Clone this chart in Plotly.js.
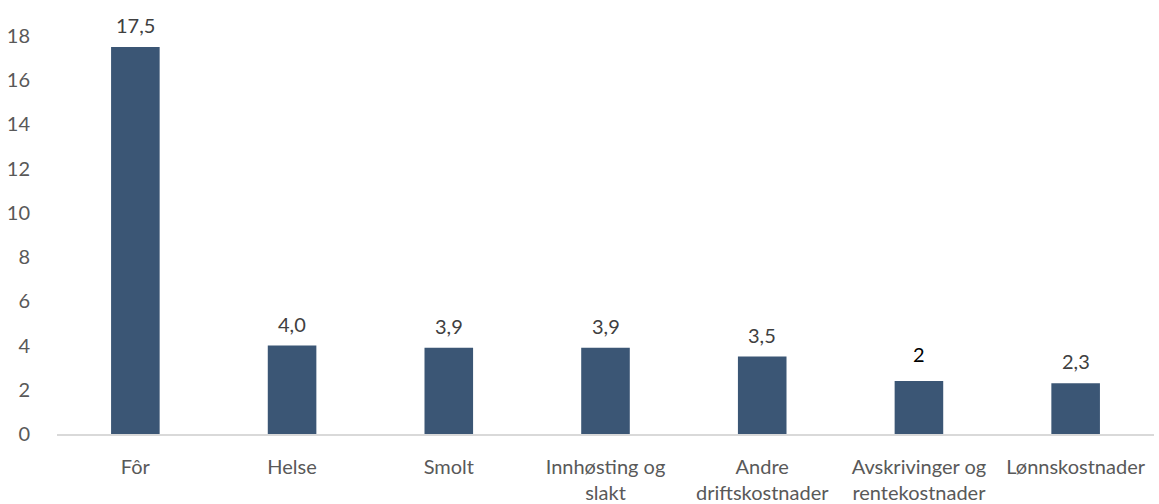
<!DOCTYPE html>
<html>
<head>
<meta charset="utf-8">
<script src="https://cdn.plot.ly/plotly-3.0.1.min.js"></script>
<style>
  html, body { margin: 0; padding: 0; background: #ffffff; }
  #chart { width: 1159px; height: 504px; }
</style>
</head>
<body>
<div id="chart"></div>
<script>
// Kostnadsposter (kategorier) og verdier
const categories = [
  "Fôr",
  "Helse",
  "Smolt",
  "Innhøsting og<br>slakt",
  "Andre<br>driftskostnader",
  "Avskrivinger og<br>rentekostnader",
  "Lønnskostnader"
];
const values = [17.5, 4.0, 3.9, 3.9, 3.5, 2.4, 2.3];
const valueLabels = ["17,5", "4,0", "3,9", "3,9", "3,5", "2", "2,3"];
const tickValues = [0, 2, 4, 6, 8, 10, 12, 14, 16, 18];

const FONT = "Lato, 'Open Sans', sans-serif";
const SIZE = 20;

const trace = {
  type: "bar",
  x: categories,
  y: values,
  marker: { color: "#3B5675" },
  cliponaxis: false,
  hoverinfo: "skip"
};

// Verdietiketter over søylene
const labelAnnotations = categories.map((c, i) => ({
  x: c,
  y: values[i],
  xref: "x",
  yref: "y",
  text: valueLabels[i],
  showarrow: false,
  yanchor: "bottom",
  yshift: valueLabels[i] === "2" ? 13 : 8,
  font: {
    family: FONT,
    size: SIZE,
    color: valueLabels[i] === "2" ? "#000000" : "#404040"
  }
}));

const layout = {
  width: 1159,
  height: 504,
  margin: { l: 57, r: 5, t: 36, b: 70 },
  paper_bgcolor: "#ffffff",
  plot_bgcolor: "#ffffff",
  showlegend: false,
  bargap: 0.69,
  font: { family: FONT, size: SIZE, color: "#595959" },
  annotations: labelAnnotations,
  xaxis: {
    showgrid: false,
    showline: true,
    linecolor: "#D9D9D9",
    linewidth: 2,
    ticks: "outside",
    ticklen: 14,
    tickcolor: "rgba(0,0,0,0)",
    tickfont: { family: FONT, size: SIZE, color: "#595959" },
    fixedrange: true
  },
  yaxis: {
    range: [0, 18],
    tickvals: tickValues,
    showgrid: false,
    zeroline: false,
    showline: false,
    ticks: "outside",
    ticklen: 22,
    tickcolor: "rgba(0,0,0,0)",
    tickfont: { family: FONT, size: SIZE, color: "#595959" },
    fixedrange: true
  }
};

Plotly.newPlot("chart", [trace], layout, { displayModeBar: false, staticPlot: true });
</script>
</body>
</html>
